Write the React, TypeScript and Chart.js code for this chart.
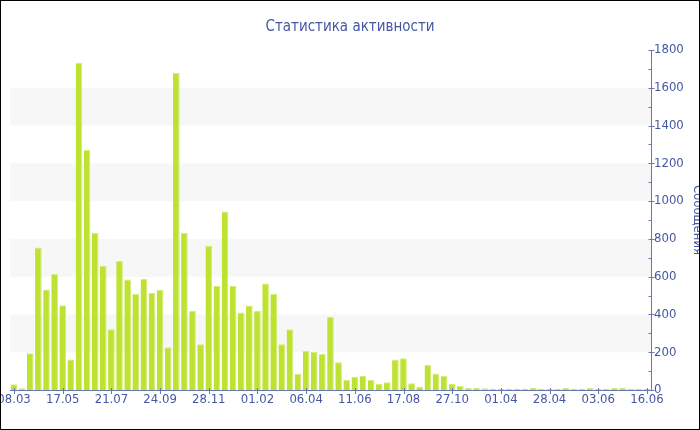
import React, { useEffect, useRef } from "react";
import { Chart, registerables } from "chart.js";

Chart.register(...registerables);

const title = "Статистика активности";
const yTitle = "Сообщения";
const tickLabels = ["08.03", "17.05", "21.07", "24.09", "28.11", "01.02", "06.04", "11.06", "17.08", "27.10", "01.04", "28.04", "03.06", "16.06"];
const labelEvery = 6;
const values = [
  30, 9, 195, 755, 532, 614, 449, 161, 1732, 1270,
  833, 658, 322, 683, 585, 508, 589, 513, 529, 226,
  1678, 832, 419, 242, 764, 550, 945, 552, 410, 447,
  419, 564, 508, 242, 322, 85, 207, 201, 191, 387,
  147, 53, 70, 74, 53, 32, 41, 161, 168, 36,
  17, 132, 88, 74, 32, 21, 11, 11, 9, 7,
  7, 7, 7, 7, 11, 7, 7, 7, 11, 7,
  7, 11, 7, 7, 11, 11, 7, 7, 7,
];
const yMax = 1800;
const yStep = 200;
const yMinorStep = 100;

const categories = values.map((_, i) => (i % labelEvery === 0 ? tickLabels[i / labelEvery] : ""));

const FONT = "'DejaVu Sans Condensed', 'DejaVu Sans', sans-serif";
const TEXT = "#4457a3";
const AXIS = "#6677b3";

const bandsPlugin = {
  id: "bands",
  beforeDatasetsDraw(chart: any) {
    const { ctx, chartArea } = chart;
    const y = chart.scales.y;
    ctx.save();
    ctx.fillStyle = "#f7f7f7";
    for (let v = yStep; v < yMax; v += yStep * 2) {
      const t = y.getPixelForValue(v + yStep);
      const b = y.getPixelForValue(v);
      ctx.fillRect(chartArea.left, t, chartArea.right - chartArea.left, b - t);
    }
    ctx.restore();
  },
  afterDraw(chart: any) {
    const { ctx, chartArea } = chart;
    const y = chart.scales.y;
    const x = chart.scales.x;
    ctx.save();
    ctx.strokeStyle = AXIS;
    ctx.lineWidth = 1;
    const ax = Math.round(chartArea.right) + 0.5;
    for (let v = 0; v <= yMax; v += yMinorStep) {
      const py = Math.round(y.getPixelForValue(v)) + 0.5;
      ctx.beginPath();
      const major = v % yStep === 0;
      ctx.moveTo(ax - 3, py);
      ctx.lineTo(major ? ax + 3 : ax, py);
      ctx.stroke();
    }
    const ay = Math.round(chartArea.bottom);
    for (let i = 0; i < categories.length; i += labelEvery) {
      const px = Math.round(x.getPixelForValue(i)) + 0.5;
      ctx.beginPath();
      ctx.moveTo(px, ay - 2);
      ctx.lineTo(px, ay + 4);
      ctx.stroke();
    }
    ctx.restore();
  },
};

export default function App() {
  const ref = useRef<HTMLCanvasElement>(null);
  useEffect(() => {
    if (!ref.current) return;
    const chart = new Chart(ref.current, {
      type: "bar",
      data: {
        labels: categories,
        datasets: [
          {
            label: yTitle,
            data: values,
            backgroundColor: "#bde232",
            borderColor: "#d4ec78",
            borderWidth: { top: 1, right: 1, left: 0, bottom: 0 } as any,
            borderSkipped: "bottom",
            barPercentage: 0.82,
            categoryPercentage: 1,
          },
        ],
      },
      options: {
        responsive: false,
        animation: false,
        layout: { padding: 0, autoPadding: false } as any,
        plugins: {
          legend: { display: false },
          tooltip: { enabled: false },
          title: {
            display: true,
            text: title,
            color: TEXT,
            font: { family: FONT, size: 15, weight: "normal" },
            padding: { top: 17, bottom: 14 },
          },
        },
        scales: {
          x: {
            type: "category",
            offset: true,
            grid: { display: false, drawTicks: false },
            border: { display: true, color: AXIS, width: 1 },
            ticks: {
              autoSkip: false,
              maxRotation: 0,
              minRotation: 0,
              padding: 2,
              color: TEXT,
              font: { family: FONT, size: 13 },
              callback: (_v: any, i: number) => (categories[i] === "" ? null : categories[i]),
            },
            afterFit: (s: any) => {
              s.height = 39;
              s.paddingLeft = 0;
              s.paddingRight = 0;
            },
          },
          yLeft: {
            type: "linear",
            position: "left",
            display: true,
            grid: { display: false, drawTicks: false },
            border: { display: false },
            ticks: { display: false },
            afterFit: (s: any) => {
              s.width = 9;
              s.paddingTop = 0;
              s.paddingBottom = 0;
            },
          },
          y: {
            position: "right",
            min: 0,
            max: yMax,
            grid: { display: false, drawTicks: false },
            border: { display: true, color: AXIS, width: 1 },
            ticks: {
              stepSize: yStep,
              padding: 3,
              color: TEXT,
              font: { family: FONT, size: 13 },
              callback: (v: any) => String(v),
            },
            title: {
              display: true,
              text: yTitle,
              color: TEXT,
              font: { family: FONT, size: 13 },
              padding: { top: -6, bottom: 0 },
            },
            afterFit: (s: any) => {
              s.width = 48;
              s.paddingTop = 0;
              s.paddingBottom = 0;
            },
          },
        },
      },
      plugins: [bandsPlugin],
    });
    return () => chart.destroy();
  }, []);
  return (
    <>
      <style>{"body{margin:0}"}</style>
      <div style={{ width: 700, height: 430, border: "1px solid #000", boxSizing: "border-box", background: "#fff" }}>
        <canvas ref={ref} width={698} height={428} style={{ display: "block" }} />
      </div>
    </>
  );
}
